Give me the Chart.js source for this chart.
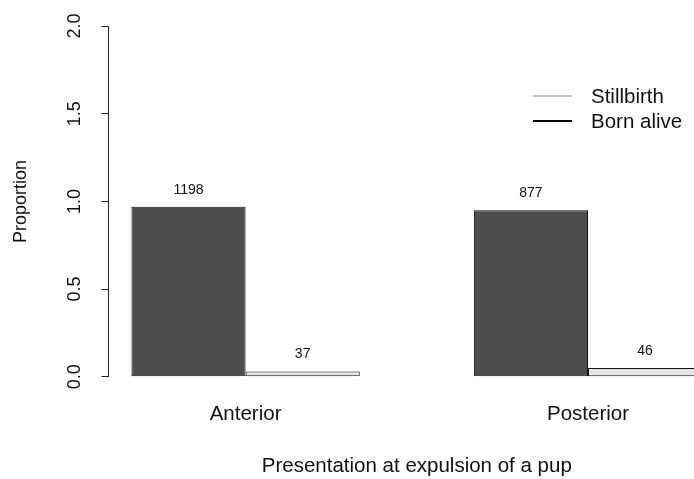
<!DOCTYPE html>
<html>
<head>
<meta charset="utf-8">
<script src="https://cdn.jsdelivr.net/npm/chart.js@4/dist/chart.umd.min.js"></script>
<style>
  html, body { margin: 0; padding: 0; background: #fff; overflow: hidden; }
  #wrap { width: 725px; height: 479px; }
</style>
</head>
<body>
<div id="wrap"><canvas id="myChart" width="725" height="479"></canvas></div>
<script>
const groups = ["Anterior", "Posterior"];
const bornAlive = [0.97, 0.95];
const stillbirth = [0.03, 0.05];
const bornAliveCounts = [1198, 877];
const stillbirthCounts = [37, 46];
const yTicks = [0, 0.5, 1, 1.5, 2];

const FONT = "'Liberation Sans', Arial, sans-serif";

// y labels drawn rotated, like R's default las=0
const yLabelsPlugin = {
  id: "yLabels",
  afterDraw(chart) {
    const ctx = chart.ctx;
    const y = chart.scales.y;
    ctx.save();
    ctx.font = "18px " + FONT;
    ctx.fillStyle = "#111";
    ctx.textAlign = "center";
    ctx.textBaseline = "middle";
    y.ticks.forEach(t => {
      ctx.save();
      ctx.translate(chart.chartArea.left - 34, y.getPixelForValue(t.value));
      ctx.rotate(-Math.PI / 2);
      ctx.fillText(t.value.toFixed(1), 0, 0);
      ctx.restore();
    });
    ctx.restore();
  }
};

// counts above bars
const countsPlugin = {
  id: "counts",
  afterDatasetsDraw(chart) {
    const ctx = chart.ctx;
    ctx.save();
    ctx.font = "14px " + FONT;
    ctx.fillStyle = "#111";
    ctx.textAlign = "center";
    ctx.textBaseline = "middle";
    chart.data.datasets.forEach((ds, i) => {
      chart.getDatasetMeta(i).data.forEach((bar, j) => {
        ctx.fillText(ds.counts[j], bar.x, bar.y - 17);
      });
    });
    ctx.restore();
  }
};

// R-style line legend inside the plot
const lineLegend = {
  id: "lineLegend",
  afterDraw(chart) {
    const ctx = chart.ctx;
    const x0 = 533, y0 = 96, gap = 25;
    ctx.save();
    ctx.font = "20.5px " + FONT;
    ctx.textAlign = "left";
    ctx.textBaseline = "middle";
    [1, 0].forEach((di, k) => {
      const ds = chart.data.datasets[di];
      const yy = y0 + k * gap;
      ctx.strokeStyle = ds.legendLine;
      ctx.lineWidth = 2;
      ctx.beginPath();
      ctx.moveTo(x0, yy);
      ctx.lineTo(x0 + 39, yy);
      ctx.stroke();
      ctx.fillStyle = "#111";
      ctx.fillText(ds.label, x0 + 58, yy + 1);
    });
    ctx.restore();
  }
};

const ctx = document.getElementById("myChart").getContext("2d");
new Chart(ctx, {
  type: "bar",
  data: {
    datasets: [
      {
        label: "Born alive",
        data: bornAlive.map((v, i) => ({ x: i + 1, y: v })),
        counts: bornAliveCounts,
        backgroundColor: "#4d4d4d",
        borderColor: "#111",
        borderWidth: 1,
        borderSkipped: false,
        legendLine: "#000"
      },
      {
        label: "Stillbirth",
        data: stillbirth.map((v, i) => ({ x: i + 1, y: v })),
        counts: stillbirthCounts,
        backgroundColor: "#e6e6e6",
        borderColor: "#111",
        borderWidth: 1,
        borderSkipped: false,
        legendLine: "#c4c4c4"
      }
    ]
  },
  options: {
    responsive: false,
    animation: false,
    devicePixelRatio: 1,
    categoryPercentage: 2 / 3,
    barPercentage: 1,
    layout: { padding: { top: 26, left: 0, right: 0, bottom: 0 } },
    plugins: {
      legend: { display: false },
      tooltip: { enabled: false }
    },
    scales: {
      x: {
        type: "linear",
        min: 0.6,
        max: 2.4,
        offset: false,
        afterBuildTicks: scale => {
          scale.ticks = groups.map((g, i) => ({ value: i + 1 }));
        },
        grid: { display: false, drawTicks: false, offset: false },
        border: { display: false },
        ticks: {
          autoSkip: false,
          maxRotation: 0,
          padding: 25,
          color: "#111",
          font: { family: FONT, size: 20.5 },
          callback: (value, index) => groups[index]
        },
        title: {
          display: true,
          text: "Presentation at expulsion of a pup",
          color: "#111",
          font: { family: FONT, size: 20.5 },
          padding: { top: 3, bottom: 0 }
        }
      },
      y: {
        min: 0,
        max: 2,
        afterBuildTicks: scale => {
          scale.ticks = yTicks.map(v => ({ value: v }));
        },
        grid: {
          drawOnChartArea: false,
          drawTicks: true,
          tickLength: 7,
          color: "#222"
        },
        border: { display: true, color: "#222", width: 1 },
        ticks: { display: false },
        title: {
          display: true,
          text: "Proportion",
          color: "#111",
          font: { family: FONT, size: 18 },
          padding: { top: 10, bottom: 70 }
        }
      }
    }
  },
  plugins: [yLabelsPlugin, countsPlugin, lineLegend]
});
</script>
</body>
</html>
